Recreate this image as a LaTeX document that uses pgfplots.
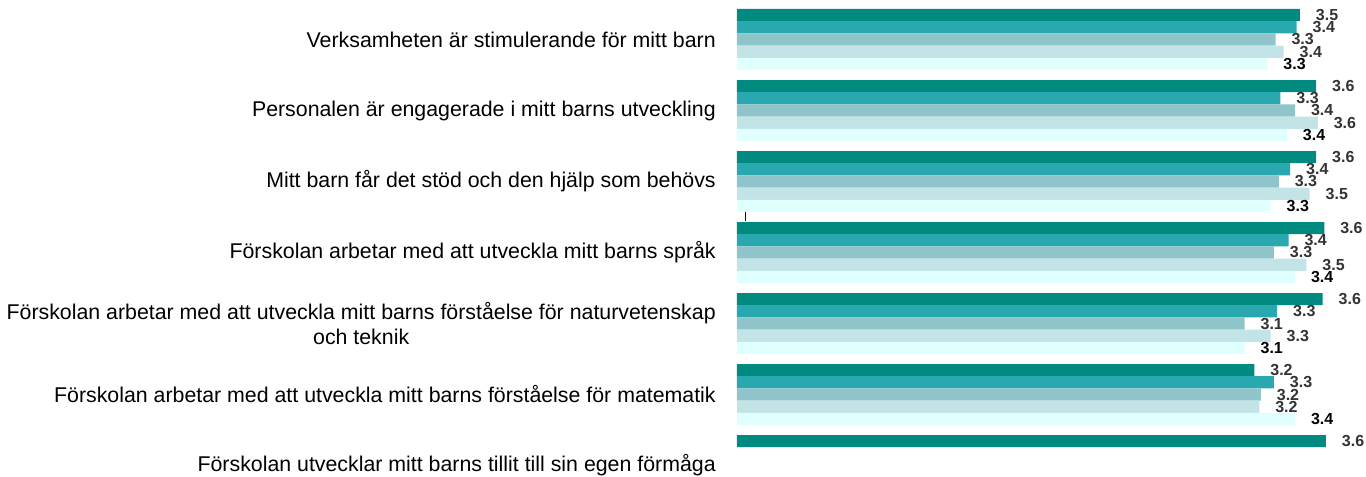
\documentclass[border=0pt]{standalone}
\usepackage{fontspec}
\setmainfont{Liberation Sans}
\usepackage{pgfplots}
\pgfplotsset{compat=1.18}
\definecolor{cA}{RGB}{0,138,128}
\definecolor{cB}{RGB}{42,168,176}
\definecolor{cC}{RGB}{142,196,202}
\definecolor{cD}{RGB}{194,228,230}
\definecolor{cE}{RGB}{224,255,255}
\definecolor{lab}{RGB}{51,51,51}
\begin{document}
\begin{tikzpicture}
\begin{axis}[
  at={(0,0)}, anchor=north west,
  scale only axis, width=471.75pt, height=357.75pt,
  xbar=0pt, bar width=9.15pt,
  xmin=0, xmax=3.866, ymin=-0.5563, ymax=6.162,
  y dir=reverse,
  xtick=\empty, ytick={0,...,6},
  yticklabels={
    Verksamheten är stimulerande för mitt barn,
    Personalen är engagerade i mitt barns utveckling,
    Mitt barn får det stöd och den hjälp som behövs,
    Förskolan arbetar med att utveckla mitt barns språk,
    {Förskolan arbetar med att utveckla mitt barns förståelse för naturvetenskap\\och teknik},
    Förskolan arbetar med att utveckla mitt barns förståelse för matematik,
    Förskolan utvecklar mitt barns tillit till sin egen förmåga},
  yticklabel style={font=\fontsize{16}{19}\selectfont, align=center, inner sep=0pt, xshift=-15.75pt},
  axis line style={draw=none}, tick style={draw=none}, major tick length=0pt,
  clip=false,
  nodes near coords={\pgfmathprintnumber[fixed,fixed zerofill,precision=1,assume math mode=true]{\pgfplotspointmeta}},
  nodes near coords style={font=\bfseries\fontsize{12}{14}\selectfont, anchor=west, inner sep=0pt, xshift=11.8pt, text=lab},
]
\addplot[fill=cA, draw=none, bar shift=18.3pt] coordinates {(3.46,0) (3.56,1) (3.56,2) (3.61,3) (3.60,4) (3.18,5) (3.62,6)};
\addplot[fill=cB, draw=none, bar shift=9.15pt] coordinates {(3.44,0) (3.34,1) (3.40,2) (3.39,3) (3.32,4) (3.30,5)};
\addplot[fill=cC, draw=none, bar shift=0pt] coordinates {(3.31,0) (3.43,1) (3.33,2) (3.30,3) (3.12,4) (3.22,5)};
\addplot[fill=cD, draw=none, bar shift=-9.15pt] coordinates {(3.36,0) (3.57,1) (3.52,2) (3.50,3) (3.28,4) (3.21,5)};
\addplot[fill=cE, draw=none, bar shift=-18.3pt, nodes near coords style={text=black}] coordinates {(3.26,0) (3.38,1) (3.28,2) (3.43,3) (3.12,4) (3.43,5)};
\draw[black, line width=0.75pt] (axis cs:0.0553,2.43) -- (axis cs:0.0553,2.556);
\end{axis}
\pgfresetboundingbox
\path[use as bounding box] (-552.75pt,0pt) rectangle (471.75pt,-357.75pt);
\end{tikzpicture}
\end{document}
